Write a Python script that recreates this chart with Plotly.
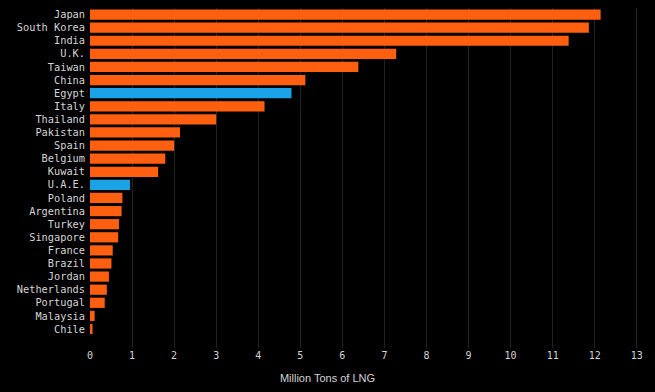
import plotly.graph_objects as go

countries = ["Japan", "South Korea", "India", "U.K.", "Taiwan", "China", "Egypt", "Italy",
             "Thailand", "Pakistan", "Spain", "Belgium", "Kuwait", "U.A.E.", "Poland",
             "Argentina", "Turkey", "Singapore", "France", "Brazil", "Jordan", "Netherlands",
             "Portugal", "Malaysia", "Chile"]
values = [12.14, 11.86, 11.38, 7.28, 6.38, 5.12, 4.79, 4.15,
          3.00, 2.14, 2.00, 1.79, 1.62, 0.95, 0.77,
          0.75, 0.69, 0.67, 0.54, 0.51, 0.45, 0.40,
          0.35, 0.11, 0.06]
highlight = ["Egypt", "U.A.E."]
x_ticks = list(range(0, 14))

ORANGE = "#FF5F0F"
BLUE = "#1BA3E8"
colors = [BLUE if c in highlight else ORANGE for c in countries]

fig = go.Figure(go.Bar(
    x=values, y=countries, orientation="h",
    marker=dict(color=colors, line=dict(width=0)),
    width=0.78,
))

fig.update_layout(
    width=655, height=392,
    paper_bgcolor="#000000", plot_bgcolor="#000000",
    margin=dict(l=90, r=14, t=8, b=44),
    showlegend=False,
    font=dict(family="DejaVu Sans Mono", color="#d4d4d4", size=10),
    title=dict(text="Million Tons of LNG", x=0.5, xref="container", xanchor="center",
               y=0.036, yref="container", yanchor="middle",
               font=dict(family="Liberation Sans", size=11, color="#d4d4d4")),
    xaxis=dict(
        range=[0, 13.1], tickvals=x_ticks, ticktext=[str(t) for t in x_ticks],
        showgrid=True, gridcolor="#222222", gridwidth=1,
        zeroline=False, showline=False,
        tickfont=dict(family="DejaVu Sans Mono", size=10, color="#d4d4d4"),
    ),
    yaxis=dict(
        type="category", categoryorder="array", categoryarray=countries,
        range=[25.45, -0.5], showgrid=False, zeroline=False, showline=False,
        ticks="", ticklabelstandoff=4,
        tickfont=dict(family="DejaVu Sans Mono", size=10.3, color="#d4d4d4"),
    ),
)

fig.write_html("out.html", config={"displayModeBar": False},
               post_script="document.body.style.margin='0px';document.body.style.background='#000';")
